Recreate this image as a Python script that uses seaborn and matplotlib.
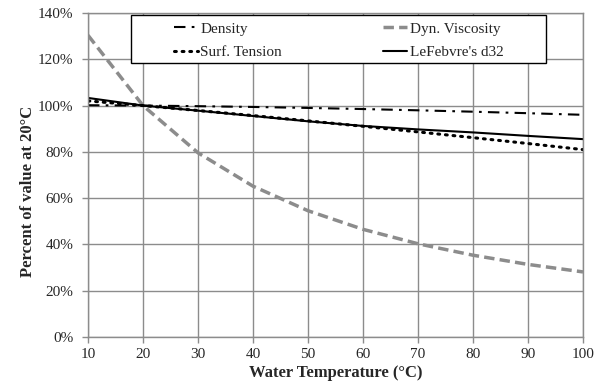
import matplotlib
matplotlib.use("Agg")
import matplotlib.pyplot as plt
import seaborn as sns
import pandas as pd
from matplotlib.ticker import PercentFormatter
from matplotlib.patches import Rectangle

temperature = [10, 20, 30, 40, 50, 60, 70, 80, 90, 100]
density = [1.0015, 1.0, 0.9974, 0.9940, 0.9898, 0.9850, 0.9795, 0.9735, 0.9670, 0.9601]
dyn_viscosity = [1.3038, 1.0, 0.7959, 0.6517, 0.5456, 0.4653, 0.4029, 0.3534, 0.3137, 0.2812]
surf_tension = [1.0202, 1.0, 0.9787, 0.9567, 0.9339, 0.9105, 0.8862, 0.8614, 0.8360, 0.8097]
lefebvre_d32 = [1.033, 1.0, 0.978, 0.955, 0.932, 0.912, 0.897, 0.884, 0.869, 0.855]

series_names = ["Density", "Dyn. Viscosity", "Surf. Tension", "LeFebvre's d32"]
series_values = [density, dyn_viscosity, surf_tension, lefebvre_d32]

sns.set_theme(style="white")
plt.rcParams["font.family"] = ["Liberation Serif", "DejaVu Serif"]

W, H = 603, 390
fig = plt.figure(figsize=(W / 100, H / 100), dpi=100)
ax = fig.add_axes([88 / W, 1 - 337 / H, (583 - 88) / W, (337 - 13) / H])

styles = {
    "Density": dict(color="black", linewidth=1.5, dashes=[(5.5, 3, 1.3, 3)]),
    "Dyn. Viscosity": dict(color="#8c8c8c", linewidth=2.5, dashes=[(3, 1.5)]),
    "Surf. Tension": dict(color="black", linewidth=2.2, dashes=[(0.6, 1.9)]),
    "LeFebvre's d32": dict(color="black", linewidth=1.5, dashes=[""]),
}

handles = {}
for name, vals in zip(series_names, series_values):
    df = pd.DataFrame({"T": temperature, "v": vals, "s": name})
    st = styles[name]
    sns.lineplot(data=df, x="T", y="v", style="s", dashes=st["dashes"],
                 color=st["color"], linewidth=st["linewidth"], ax=ax, legend=False)
    line = ax.lines[-1]
    if name == "Surf. Tension":
        line.set_dash_capstyle("round")
    handles[name] = line

ax.set_xlim(10, 100)
ax.set_ylim(0, 1.4)
ax.set_xticks(range(10, 101, 10))
ax.set_yticks([i * 0.2 for i in range(8)])
ax.yaxis.set_major_formatter(PercentFormatter(1.0, decimals=0))
ax.grid(True, color="#8c8c8c", linewidth=1.0)
for s in ax.spines.values():
    s.set_color("#8c8c8c")
    s.set_linewidth(1.0)
ax.tick_params(axis="both", which="major", length=4, width=1, color="#8c8c8c",
               labelsize=11, direction="out", bottom=True, left=True)
ax.tick_params(axis="y", pad=6.5)
ax.tick_params(axis="x", pad=4)
ax.set_xlabel("Water Temperature (°C)", fontsize=12, fontweight="bold", labelpad=3)
ax.set_ylabel("Percent of value at 20°C", fontsize=12, fontweight="bold", labelpad=1.5)
ax.yaxis.label.set_y(0.45)

# legend box
bx0, by0, bx1, by1 = 131, 15, 546, 63
ax.add_patch(Rectangle(((bx0 - 88) / 495, (337 - by1) / 324), (bx1 - bx0) / 495,
                       (by1 - by0) / 324, transform=ax.transAxes, facecolor="white",
                       edgecolor="black", linewidth=1.0, zorder=4, clip_on=False))

order = ["Density", "Surf. Tension", "Dyn. Viscosity", "LeFebvre's d32"]
leg = ax.legend([handles[n] for n in order], order, ncol=2, loc="center",
                bbox_to_anchor=(((bx0 + bx1) / 2 - 88) / 495, (337 - 40.5) / 324),
                frameon=False, fontsize=11, handlelength=1.6, handletextpad=0.15,
                borderaxespad=0, labelspacing=0.65, borderpad=0, columnspacing=6.6)
leg.set_zorder(5)

fig.savefig("out.png", dpi=100)
